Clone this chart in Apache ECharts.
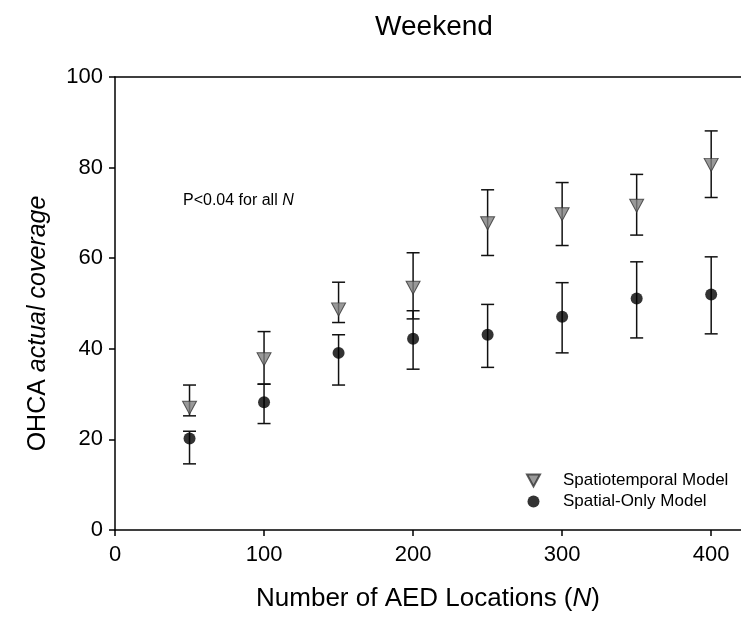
<!DOCTYPE html>
<html>
<head>
<meta charset="utf-8">
<script src="https://cdn.jsdelivr.net/npm/echarts@6/dist/echarts.min.js"></script>
<style>
  html, body { margin: 0; padding: 0; background: #fff; }
  #chart-root { width: 741px; height: 625px; }
</style>
</head>
<body>
<div id="chart-root"></div>
<script>
// number of AED locations
const nLocations = [50, 100, 150, 200, 250, 300, 350, 400]

// spatiotemporal model: mean and error bar ends
const stMean = [27.0, 37.7, 48.7, 53.5, 67.7, 69.7, 71.6, 80.6]
const stLow = [25.2, 32.2, 45.8, 46.6, 60.6, 62.8, 65.1, 73.4]
const stHigh = [32.0, 43.8, 54.7, 61.2, 75.1, 76.7, 78.5, 88.1]

// spatial-only model
const spMean = [20.2, 28.2, 39.1, 42.2, 43.1, 47.1, 51.1, 52.0]
const spLow = [14.6, 23.5, 32.0, 35.5, 35.9, 39.1, 42.4, 43.3]
const spHigh = [21.8, 32.2, 43.1, 48.4, 49.8, 54.6, 59.2, 60.3]

const FONT = 'Liberation Sans, Arial, sans-serif'

let chart = echarts.init(document.getElementById('chart-root'))

function errorBars (low, high) {
  return nLocations.map((n, i) => [n, low[i], high[i]])
}

function renderErrorBar (params, api) {
  let x = api.value(0)
  let lo = api.coord([x, api.value(1)])
  let hi = api.coord([x, api.value(2)])
  let half = 6.5
  let style = { stroke: '#111', lineWidth: 1.5 }
  return {
    type: 'group',
    children: [
      { type: 'line', shape: { x1: lo[0], y1: lo[1], x2: hi[0], y2: hi[1] }, style: style },
      { type: 'line', shape: { x1: hi[0] - half, y1: hi[1], x2: hi[0] + half, y2: hi[1] }, style: style },
      { type: 'line', shape: { x1: lo[0] - half, y1: lo[1], x2: lo[0] + half, y2: lo[1] }, style: style }
    ]
  }
}

let option = {
  animation: false,
  textStyle: { fontFamily: FONT, color: '#000' },
  title: [
    {
      text: 'Weekend',
      left: 429,
      top: 8,
      textAlign: 'center',
      textStyle: { fontFamily: FONT, fontSize: 28, fontWeight: 'normal', color: '#000' }
    },
    {
      text: '{a|P<0.04 for all }{b|N}',
      left: 178,
      top: 188,
      textStyle: {
        fontWeight: 'normal',
        rich: {
          a: { fontFamily: FONT, fontSize: 16, fontWeight: 'normal', color: '#000' },
          b: { fontFamily: FONT, fontSize: 16, fontWeight: 'normal', fontStyle: 'italic', color: '#000' }
        }
      }
    }
  ],
  legend: {
    orient: 'vertical',
    left: 521,
    top: 467,
    itemGap: 4,
    itemWidth: 13,
    itemHeight: 12,
    textStyle: { fontFamily: FONT, fontSize: 17, color: '#000', padding: [0, 0, 0, 18] },
    data: [
      { name: 'Spatiotemporal Model', icon: 'path://M0,0L12,0L6,11Z' },
      { name: 'Spatial-Only Model', icon: 'circle' }
    ]
  },
  grid: {
    left: 115,
    right: 0,
    top: 77,
    bottom: 95
  },
  xAxis: [
    {
      type: 'value',
      min: 0,
      max: 420,
      interval: 100,
      name: 'Number of AED Locations ({i|N})',
      nameLocation: 'middle',
      nameGap: 56,
      nameTextStyle: {
        fontFamily: FONT,
        fontSize: 26,
        color: '#000',
        rich: { i: { fontFamily: FONT, fontSize: 26, fontStyle: 'italic', color: '#000' } }
      },
      axisLine: { show: true, lineStyle: { color: '#000', width: 1.5 } },
      axisTick: { show: true, inside: false, length: 6, lineStyle: { color: '#000', width: 1.5 } },
      axisLabel: {
        showMaxLabel: false,
        margin: 14,
        fontFamily: FONT,
        fontSize: 22,
        color: '#000'
      },
      splitLine: { show: false }
    },
    {
      type: 'value',
      position: 'top',
      min: 0,
      max: 420,
      axisLine: { show: true, lineStyle: { color: '#000', width: 1.5 } },
      axisTick: { show: false },
      axisLabel: { show: false },
      splitLine: { show: false }
    }
  ],
  yAxis: {
    type: 'value',
    min: 0,
    max: 100,
    interval: 20,
    name: '{n|OHCA }{i|actual coverage}',
    nameLocation: 'middle',
    nameGap: 64,
    nameTextStyle: {
      padding: [0, 40, 0, 0],
      rich: {
        n: { fontFamily: FONT, fontSize: 25, color: '#000' },
        i: { fontFamily: FONT, fontSize: 25, fontStyle: 'italic', color: '#000' }
      }
    },
    axisLine: { show: true, lineStyle: { color: '#000', width: 1.5 } },
    axisTick: { show: true, inside: false, length: 6, lineStyle: { color: '#000', width: 1.5 } },
    axisLabel: {
      margin: 12,
      fontFamily: FONT,
      fontSize: 22,
      color: '#000'
    },
    splitLine: { show: false }
  },
  series: [
    {
      name: 'Spatiotemporal Model error',
      type: 'custom',
      renderItem: renderErrorBar,
      data: errorBars(stLow, stHigh),
      z: 1
    },
    {
      name: 'Spatial-Only Model error',
      type: 'custom',
      renderItem: renderErrorBar,
      data: errorBars(spLow, spHigh),
      z: 1
    },
    {
      name: 'Spatiotemporal Model',
      type: 'scatter',
      symbol: 'path://M0,0L12,0L6,11Z',
      symbolSize: [14, 13],
      itemStyle: { color: '#808080', borderColor: '#333', borderWidth: 1 },
      data: nLocations.map((n, i) => [n, stMean[i]]),
      z: 3
    },
    {
      name: 'Spatial-Only Model',
      type: 'scatter',
      symbol: 'circle',
      symbolSize: 12,
      itemStyle: { color: '#000' },
      data: nLocations.map((n, i) => [n, spMean[i]]),
      z: 3
    }
  ]
}

chart.setOption(option)
</script>
</body>
</html>
